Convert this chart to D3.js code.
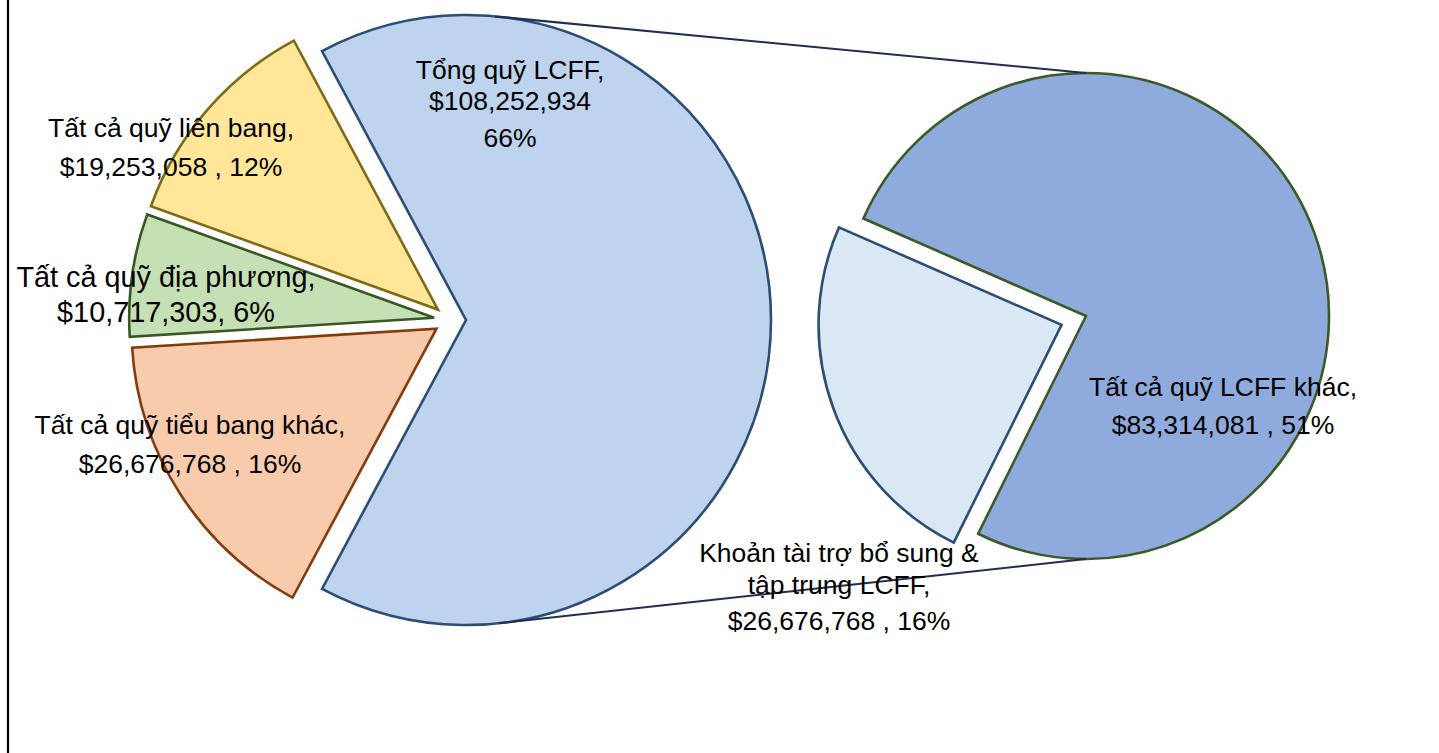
<!DOCTYPE html>
<html>
<head>
<meta charset="utf-8">
<script src="https://cdn.jsdelivr.net/npm/d3@7"></script>
<style>
  html, body { margin: 0; padding: 0; background: #fff; }
  svg { display: block; }
  text { font-family: "Liberation Sans", Arial, sans-serif; fill: #000; }
</style>
</head>
<body>
<svg id="chart" width="1439" height="753"></svg>
<script>
// ---- data ----
const mainCategories = ["Tổng quỹ LCFF", "Tất cả quỹ tiểu bang khác", "Tất cả quỹ địa phương", "Tất cả quỹ liên bang"];
const mainValues = [108252934, 26676768, 10717303, 19253058];
const mainLabels = [
  ["Tổng quỹ LCFF,", "$108,252,934", "66%"],
  ["Tất cả quỹ tiểu bang khác,", "$26,676,768 , 16%"],
  ["Tất cả quỹ địa phương,", "$10,717,303, 6%"],
  ["Tất cả quỹ liên bang,", "$19,253,058 , 12%"]
];
const subCategories = ["Tất cả quỹ LCFF khác", "Khoản tài trợ bổ sung & tập trung LCFF"];
const subValues = [83314081, 26676768];
const subLabels = [
  ["Tất cả quỹ LCFF khác,", "$83,314,081 , 51%"],
  ["Khoản tài trợ bổ sung &", "tập trung LCFF,", "$26,676,768 , 16%"]
];

// ---- style / layout ----
const mainFill = ["#BDD3EE", "#F8CBAD", "#C5E0B4", "#FFE699"];
const mainStroke = ["#2C4E74", "#843C0C", "#385723", "#7F6A16"];
const subFill = ["#8FAADC", "#DAE8F5"];
const subStroke = ["#3A5A28", "#2C4E74"];

const svg = d3.select("#chart");
const deg = Math.PI / 180;

const M = { cx: 450, cy: 320, r: 305, explode: 16 };
const S = { cx: 1086, cy: 316, r: 243, explode: [0, 26], lightCenter: 250 * deg };

// left border
svg.append("line").attr("x1", 8).attr("x2", 8).attr("y1", 0).attr("y2", 753)
  .attr("stroke", "#000").attr("stroke-width", 2.2);

// main pie
const mainTotal = d3.sum(mainValues);
const lcffAngle = mainValues[0] / mainTotal * 2 * Math.PI;
const mainStart = Math.PI / 2 - lcffAngle / 2;
const mainPie = d3.pie().sort(null).startAngle(mainStart).endAngle(mainStart + 2 * Math.PI);
const mainArcs = mainPie(mainValues);
const mainArc = d3.arc().innerRadius(0).outerRadius(M.r);

function offset(a, d) {
  const mid = (a.startAngle + a.endAngle) / 2;
  return [d * Math.sin(mid), -d * Math.cos(mid)];
}

const gMain = svg.append("g").attr("transform", `translate(${M.cx},${M.cy})`);
gMain.selectAll("path").data(mainArcs).join("path")
  .attr("transform", d => { const o = offset(d, M.explode); return `translate(${o[0]},${o[1]})`; })
  .attr("d", mainArc)
  .attr("fill", (d, i) => mainFill[i])
  .attr("stroke", (d, i) => mainStroke[i])
  .attr("stroke-width", 2.6)
  .attr("stroke-linejoin", "miter");

// secondary pie
const subTotal = d3.sum(subValues);
const darkAng = subValues[0] / subTotal * 2 * Math.PI;
const lightAng = subValues[1] / subTotal * 2 * Math.PI;
const subStart = S.lightCenter - darkAng - lightAng / 2;
const subPie = d3.pie().sort(null).startAngle(subStart).endAngle(subStart + 2 * Math.PI);
const subArcs = subPie(subValues);
const subArc = d3.arc().innerRadius(0).outerRadius(S.r);
const gSub = svg.append("g").attr("transform", `translate(${S.cx},${S.cy})`);
gSub.selectAll("path").data(subArcs).join("path")
  .attr("transform", (d, i) => { const o = offset(d, S.explode[i]); return `translate(${o[0]},${o[1]})`; })
  .attr("d", subArc)
  .attr("fill", (d, i) => subFill[i])
  .attr("stroke", (d, i) => subStroke[i])
  .attr("stroke-width", 2.6);

// connector lines: tangent from LCFF slice circle to top/bottom of secondary pie
const lcffOff = offset(mainArcs[0], M.explode);
const C = [M.cx + lcffOff[0], M.cy + lcffOff[1]];
function tangent(P, sign) {
  const dx = P[0] - C[0], dy = P[1] - C[1];
  const d = Math.hypot(dx, dy);
  const base = Math.atan2(dy, dx);
  const t = base + sign * Math.acos(M.r / d);
  return [C[0] + M.r * Math.cos(t), C[1] + M.r * Math.sin(t)];
}
const topP = [S.cx, S.cy - S.r];
const botP = [S.cx, S.cy + S.r];
[[tangent(topP, -1), topP], [tangent(botP, 1), botP]].forEach(seg => {
  svg.append("line")
    .attr("x1", seg[0][0]).attr("y1", seg[0][1])
    .attr("x2", seg[1][0]).attr("y2", seg[1][1])
    .attr("stroke", "#1F2E52").attr("stroke-width", 2);
});

// labels
const mainLabelPos = [
  { x: 510, y: [79, 110, 147], size: 26.5 },
  { x: 190, y: [434, 473], size: 26.5 },
  { x: 166, y: [287, 322], size: 28.8 },
  { x: 171, y: [137, 176], size: 26.5 }
];
const subLabelPos = [
  { x: 1223, y: [396, 434], size: 26.5 },
  { x: 839, y: [562, 594, 630], size: 26.5 }
];
function drawLabels(labels, pos) {
  labels.forEach((lines, i) => {
    const p = pos[i];
    lines.forEach((t, j) => {
      svg.append("text")
        .attr("x", p.x).attr("y", p.y[j])
        .attr("text-anchor", "middle")
        .attr("font-size", p.size + "px")
        .text(t);
    });
  });
}
drawLabels(mainLabels, mainLabelPos);
drawLabels(subLabels, subLabelPos);
</script>
</body>
</html>
